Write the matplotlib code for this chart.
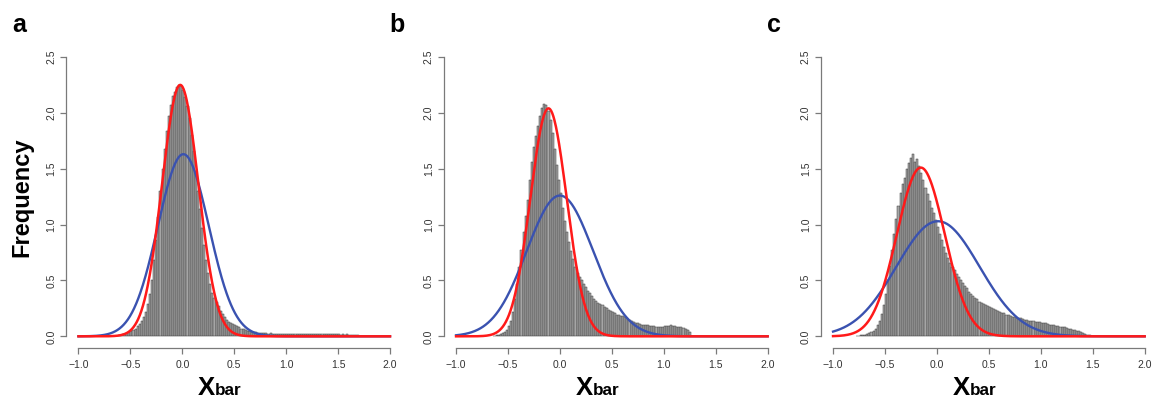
import numpy as np
import matplotlib
matplotlib.use("Agg")
import matplotlib.pyplot as plt
from matplotlib.transforms import blended_transform_factory

plt.rcParams['font.family'] = ['Liberation Sans', 'DejaVu Sans']

# ---------------- data ----------------
panel_labels = ["a", "b", "c"]
bin_width = 0.02

# panel a histogram (density), first bin starts at -0.64
hist_a_start = -0.64
hist_a = [0.005, 0.01, 0.01, 0.02, 0.02, 0.03, 0.04, 0.05, 0.06, 0.07,
          0.09, 0.11, 0.14, 0.17, 0.22, 0.29, 0.38, 0.50, 0.68, 0.86,
          1.07, 1.30, 1.50, 1.68, 1.84, 1.97, 2.07, 2.15, 2.19, 2.23,
          2.25, 2.24, 2.20, 2.14, 2.06, 1.95, 1.80, 1.66, 1.48, 1.30,
          1.14, 0.97, 0.82, 0.68, 0.57, 0.47, 0.39, 0.34, 0.31, 0.27,
          0.23, 0.20, 0.17, 0.15, 0.13, 0.12, 0.11, 0.10, 0.09, 0.08,
          0.07, 0.065, 0.06, 0.05, 0.045, 0.04, 0.035, 0.035, 0.03, 0.03,
          0.028, 0.027,
          0.026, 0.025, 0.026, 0.024, 0.025, 0.024, 0.023, 0.025, 0.022, 0.023,
          0.022, 0.023, 0.021, 0.022, 0.020, 0.022, 0.021, 0.020, 0.021, 0.020,
          0.019, 0.021, 0.020, 0.019, 0.020, 0.018, 0.019, 0.020, 0.018, 0.019,
          0.018, 0.017, 0.019, 0.018, 0.017, 0.018, 0.016, 0.017, 0.016, 0.017,
          0.015, 0.016, 0.014, 0.013, 0.010]

# panel b histogram
hist_b_start = -0.64
hist_b = [0.005, 0.01, 0.015, 0.02, 0.03, 0.04, 0.06, 0.09, 0.14, 0.22,
          0.33, 0.47, 0.62, 0.77, 0.93, 1.08, 1.22, 1.40, 1.56, 1.69,
          1.79, 1.88, 1.97, 2.04, 2.08, 2.07, 2.02, 1.94, 1.82, 1.68,
          1.53, 1.40, 1.28, 1.15, 1.03, 0.93, 0.84, 0.76, 0.69, 0.62,
          0.57, 0.53, 0.50, 0.47, 0.44, 0.41, 0.39, 0.36, 0.33, 0.32,
          0.30, 0.29, 0.28, 0.26, 0.25, 0.24, 0.23, 0.22, 0.205, 0.195,
          0.19, 0.18, 0.18, 0.17, 0.16, 0.15, 0.14, 0.13, 0.12, 0.115,
          0.11, 0.105, 0.10, 0.10, 0.10, 0.095, 0.09, 0.09, 0.085, 0.08,
          0.085, 0.085, 0.09, 0.095, 0.095, 0.10, 0.095, 0.09, 0.085, 0.085,
          0.08, 0.075, 0.07, 0.06, 0.04]

# panel c histogram
hist_c_start = -0.78
hist_c = [0.003, 0.005, 0.008, 0.012, 0.015, 0.02, 0.03, 0.04, 0.05, 0.07,
          0.10, 0.14, 0.20, 0.28, 0.38, 0.50, 0.63, 0.77, 0.92, 1.05,
          1.17, 1.28, 1.36, 1.42, 1.50, 1.55, 1.60, 1.63, 1.56, 1.59,
          1.52, 1.46, 1.40, 1.33, 1.27, 1.21, 1.15, 1.10, 1.04, 0.98,
          0.92, 0.86, 0.80, 0.75, 0.70, 0.66, 0.62, 0.59, 0.56, 0.53,
          0.50, 0.48, 0.45, 0.43, 0.40, 0.38, 0.36, 0.34, 0.33, 0.31,
          0.30, 0.29, 0.28, 0.27, 0.265, 0.255, 0.245, 0.235, 0.225, 0.22,
          0.21, 0.205, 0.195, 0.19, 0.185, 0.175, 0.17, 0.165, 0.16, 0.16,
          0.155, 0.15, 0.145, 0.14, 0.14, 0.135, 0.13, 0.13, 0.125, 0.12,
          0.12, 0.115, 0.11, 0.105, 0.10, 0.10, 0.095, 0.09, 0.085, 0.085,
          0.08, 0.075, 0.07, 0.065, 0.06, 0.055, 0.05, 0.045, 0.04, 0.03,
          0.025, 0.015, 0.008]

# fitted normal curves: (mean, sd, peak height)
red_fit = [(-0.02, 0.175, 2.25), (-0.11, 0.175, 2.04), (-0.155, 0.23, 1.51)]
blue_fit = [(0.01, 0.245, 1.63), (0.00, 0.32, 1.26), (0.01, 0.40, 1.03)]

x_ticks = [-1.0, -0.5, 0.0, 0.5, 1.0, 1.5, 2.0]
y_ticks = [0.0, 0.5, 1.0, 1.5, 2.0, 2.5]
ylabel = "Frequency"

hists = [(hist_a_start, hist_a), (hist_b_start, hist_b), (hist_c_start, hist_c)]

# ---------------- figure ----------------
W, H = 1153, 400
fig = plt.figure(figsize=(W / 100, H / 100), dpi=100)

ax_left_px = [66, 443.6, 820.6]
ax_w_px = 336.5
ax_top_px = 45.8
ax_bot_px = 347.5

axis_grey = "#7a7a7a"
red = "#ff1a1a"
blue = "#3a52b0"

for i in range(3):
    ax = fig.add_axes([ax_left_px[i] / W, 1 - ax_bot_px / H,
                       ax_w_px / W, (ax_bot_px - ax_top_px) / H])
    ax.set_xlim(-1.12, 2.12)
    ax.set_ylim(-0.1, 2.6)

    start, heights = hists[i]
    edges = start + bin_width * np.arange(len(heights))
    ax.bar(edges, heights, width=bin_width, align="edge",
           color="#a6a6a6", edgecolor="#3a3a3a", linewidth=0.35, zorder=2)

    xs = np.linspace(-1.0, 2.0, 600)
    m, s, p = blue_fit[i]
    ax.plot(xs, p * np.exp(-0.5 * ((xs - m) / s) ** 2), color=blue, lw=1.7, zorder=3)
    m, s, p = red_fit[i]
    ax.plot(xs, p * np.exp(-0.5 * ((xs - m) / s) ** 2), color=red, lw=1.8, zorder=4)

    for side in ("top", "right"):
        ax.spines[side].set_visible(False)
    ax.spines["left"].set_bounds(0, 2.5)
    ax.spines["bottom"].set_bounds(-1, 2)
    for side in ("left", "bottom"):
        ax.spines[side].set_color(axis_grey)
        ax.spines[side].set_linewidth(0.9)

    ax.set_xticks(x_ticks)
    ax.set_xticklabels([f"{t:.1f}".replace("-", "\u2212") for t in x_ticks])
    ax.set_yticks(y_ticks)
    ax.set_yticklabels([f"{t:.1f}" for t in y_ticks], rotation=90, va="center")
    ax.tick_params(axis="both", length=4, width=0.9, color=axis_grey,
                   labelsize=7.5, labelcolor="#333333", pad=5)
    ax.tick_params(axis="y", pad=3)

    # panel letter
    fig.text(ax_left_px[i] / W - 54 / W, 1 - 31.5 / H, panel_labels[i],
             fontsize=18, fontweight="bold", ha="left", va="baseline")

    # x label X_bar
    trans = blended_transform_factory(ax.transData, fig.transFigure)
    ax.text(0.15, 1 - 395 / H, "X", transform=trans, fontsize=18.5,
            fontweight="bold", ha="left", va="baseline")
    ax.annotate("bar", xy=(0.15, 1 - 395 / H), xycoords=trans,
                xytext=(12.2, 0), textcoords="offset points",
                fontsize=12.3, fontweight="bold", ha="left", va="baseline")

fig.text(22 / W, 1 - 197 / H, ylabel, rotation=90, fontsize=17,
         fontweight="bold", ha="center", va="center")

fig.savefig("out.png", dpi=100)
